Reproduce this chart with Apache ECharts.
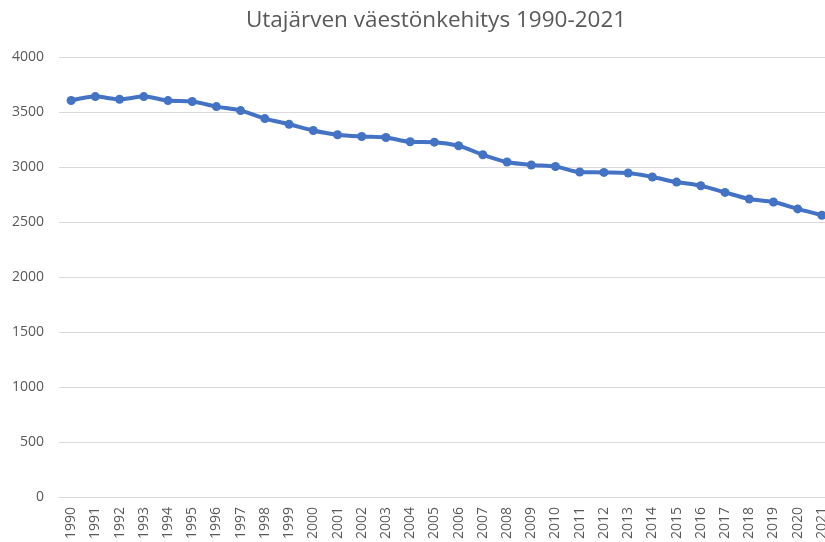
<!DOCTYPE html>
<html>
<head>
<meta charset="utf-8">
<script src="https://cdn.jsdelivr.net/npm/echarts@6/dist/echarts.min.js"></script>
<style>html,body{margin:0;padding:0;background:#fff;overflow:hidden;width:825px;height:542px}#c{width:834px;height:542px}</style>
</head>
<body>
<div id="c"></div>
<script>
const years = ['1990','1991','1992','1993','1994','1995','1996','1997','1998','1999','2000','2001','2002','2003','2004','2005','2006','2007','2008','2009','2010','2011','2012','2013','2014','2015','2016','2017','2018','2019','2020','2021'];
const population = [3605,3640,3616,3640,3604,3595,3549,3513,3440,3389,3332,3293,3277,3268,3229,3226,3193,3111,3045,3018,3005,2954,2951,2945,2909,2863,2830,2769,2709,2682,2619,2561];
const yTicks = {min:0, max:4000, interval:500};
const titleText = 'Utajärven väestönkehitys 1990-2021';

const chart = echarts.init(document.getElementById('c'));
chart.setOption({
  animation:false,
  backgroundColor:'#fff',
  title:{text:titleText,left:431,top:4,textAlign:'center',
    textStyle:{fontFamily:'Open Sans',fontSize:22.5,fontWeight:'normal',color:'#595959'}},
  grid:{left:59,right:0,top:57,bottom:44,containLabel:false},
  xAxis:{type:'category',data:years,boundaryGap:true,
    axisLine:{lineStyle:{color:'#d9d9d9'}},axisTick:{show:false},
    axisLabel:{rotate:90,interval:0,color:'#595959',fontFamily:'Open Sans',fontSize:14,margin:10}},
  yAxis:{type:'value',min:yTicks.min,max:yTicks.max,interval:yTicks.interval,
    axisLine:{show:false},axisTick:{show:false},
    splitLine:{lineStyle:{color:'#d9d9d9'}},
    axisLabel:{color:'#595959',fontFamily:'Open Sans',fontSize:14,margin:15,formatter:v=>String(v)}},
  series:[{type:'line',data:population,smooth:0.3,symbol:'circle',symbolSize:9,
    lineStyle:{color:'#4472C4',width:4},itemStyle:{color:'#4472C4'}}]
});
</script>
</body>
</html>
